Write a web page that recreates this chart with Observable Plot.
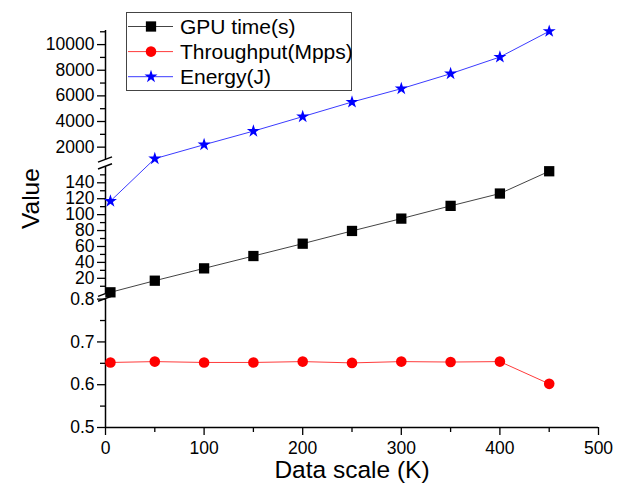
<!DOCTYPE html>
<html>
<head>
<meta charset="utf-8">
<script src="https://cdn.jsdelivr.net/npm/d3@7"></script>
<script src="https://cdn.jsdelivr.net/npm/@observablehq/plot@0.6"></script>
<style>
  body { margin: 0; background: #fff; }
  #chart { position: relative; width: 624px; height: 495px; font-family: "Liberation Sans", Arial, sans-serif; }
  #legend { position: absolute; left: 126px; top: 12px; }
</style>
</head>
<body>
<div id="chart"></div>
<script>
// Measurements per data scale (thousands of packets)
const dataScale = [5, 50, 100, 150, 200, 250, 300, 350, 400, 450];
const gpuTime = [2.4, 17, 32.5, 48, 63.5, 79.5, 95, 111, 126.5, 154.5];
const throughput = [0.652, 0.654, 0.652, 0.652, 0.654, 0.651, 0.654, 0.653, 0.654, 0.602];
const energy = [117, 1100, 2190, 3250, 4380, 5520, 6560, 7730, 9030, 11040];

const seriesNames = ["GPU time(s)", "Throughput(Mpps)", "Energy(J)"];
const seriesValues = [gpuTime, throughput, energy];

// Axis ticks
const xTicks = [0, 100, 200, 300, 400, 500];
const xMinorTicks = [50, 150, 250, 350, 450];
const yTicksLow = [0.5, 0.6, 0.7, 0.8];
const yTicksMid = [20, 40, 60, 80, 100, 120, 140];
const yTicksHigh = [2000, 4000, 6000, 8000, 10000];
const yMinorLow = [0.55, 0.65, 0.75];
const yMinorMid = [10, 30, 50, 70, 90, 110, 130, 150];
const yMinorHigh = [3000, 5000, 7000, 9000, 11000];

// Value ranges of the three pieces of the broken y axis
const segmentRanges = [[0.5, 0.8], [0, 160], [1000, 11100]];

// Layout: each piece's extent along the axis (axis units, bottom = 0)
const segmentBands = [[0, 128.2], [133.1, 260.3], [267.2, 396.5]];
const axisLength = 396.5;

const styles = [
  { line: "#444444", fill: "#000000", symbol: "square", r: 5.8 },
  { line: "#ff3b3b", fill: "#ff0000", symbol: "circle", r: 5.3 },
  { line: "#3b3bff", fill: "#0000ff", symbol: "star", r: 4.1 }
];

// Piecewise map from a value to the position on the broken axis
function brk(v) {
  let i = segmentRanges.findIndex(([lo, hi]) => v >= lo && v <= hi);
  if (i < 0) i = v > segmentRanges[2][0] ? 2 : 1;
  const [lo, hi] = segmentRanges[i];
  const [b0, b1] = segmentBands[i];
  return b0 + (v - lo) / (hi - lo) * (b1 - b0);
}

const majorY = [...yTicksLow, ...yTicksMid, ...yTicksHigh];
const minorY = [...yMinorLow, ...yMinorMid, ...yMinorHigh];
const labelOf = new Map(majorY.map(v => [brk(v), String(v)]));

const rows = seriesValues.map((vals, s) => dataScale.map((k, i) => ({ k, s, v: vals[i] })));
const segRows = segmentBands.map(([v0, v1]) => ({ v0, v1 }));

// Slanted double strokes marking each break of the y axis
function breakMarks(index, scales) {
  const g = d3.create("svg:g").attr("stroke", "black").attr("stroke-width", 1.4).attr("fill", "none");
  const x0 = scales.x(0);
  for (let i = 0; i < segmentBands.length - 1; i++) {
    for (const v of [segmentBands[i][1], segmentBands[i + 1][0]]) {
      const y = scales.y(v);
      g.append("line").attr("x1", x0 - 7).attr("y1", y + 2.6).attr("x2", x0 + 7).attr("y2", y - 2.6);
    }
  }
  return g.node();
}

const font = { fontSize: 17.5 };

const plot = Plot.plot({
  width: 624,
  height: 495,
  marginLeft: 105,
  marginRight: 26,
  marginTop: 30,
  marginBottom: 68,
  style: { fontFamily: "'Liberation Sans', Arial, sans-serif", fontSize: "17.5px", color: "#000", background: "#fff" },
  x: { domain: [0, 500] },
  y: { domain: [0, axisLength] },
  marks: [
    Plot.axisX(xTicks, { tickSize: 8, tickPadding: 6, strokeWidth: 1.3, label: null, ...font }),
    Plot.axisX(xMinorTicks, { tickSize: 5, strokeWidth: 1.3, tickFormat: () => "", label: null }),
    Plot.axisY(majorY.map(brk), { tickSize: 8, tickPadding: 3, strokeWidth: 1.3, tickFormat: d => labelOf.get(d), label: null, ...font }),
    Plot.axisY(minorY.map(brk), { tickSize: 5, strokeWidth: 1.3, tickFormat: () => "", label: null }),
    Plot.ruleY([brk(0.5)], { stroke: "black", strokeWidth: 1.5 }),
    Plot.ruleX(segRows, { x: 0, y1: "v0", y2: "v1", stroke: "black", strokeWidth: 1.5 }),
    breakMarks,
    ...rows.map((r, s) => Plot.line(r, { x: "k", y: d => brk(d.v), stroke: styles[s].line, strokeWidth: 1 })),
    ...rows.map((r, s) => Plot.dot(r, { x: "k", y: d => brk(d.v), symbol: styles[s].symbol, r: styles[s].r, fill: styles[s].fill, stroke: "none" })),
    Plot.text(["Value"], { text: d => d, frameAnchor: "left", rotate: -90, dx: -74, fontSize: 24.5 }),
    Plot.text(["Data scale (K)"], { text: d => d, frameAnchor: "bottom", dy: 50.5, fontSize: 24.5 })
  ]
});

const chart = document.getElementById("chart");
chart.appendChild(plot);

// Legend box
const lw = 226, lh = 79;
const legend = d3.select(chart).append("svg")
  .attr("id", "legend").attr("width", lw).attr("height", lh);
legend.append("rect").attr("x", 0.5).attr("y", 0.5).attr("width", lw - 1).attr("height", lh - 1)
  .attr("fill", "#fff").attr("stroke", "#444").attr("stroke-width", 1);
const symbolTypes = { square: d3.symbolSquare, circle: d3.symbolCircle, star: d3.symbolStar };
seriesNames.forEach((name, i) => {
  const y = 14.5 + i * 25.1;
  const row = legend.append("g");
  row.append("line").attr("x1", 2).attr("x2", 47).attr("y1", y).attr("y2", y)
    .attr("stroke", styles[i].line).attr("stroke-width", 1);
  row.append("path")
    .attr("d", d3.symbol(symbolTypes[styles[i].symbol], Math.PI * styles[i].r ** 2)())
    .attr("transform", `translate(25,${y})`).attr("fill", styles[i].fill);
  row.append("text").attr("x", 54).attr("y", y).attr("dy", "0.35em")
    .attr("font-family", "'Liberation Sans', Arial, sans-serif").attr("font-size", 21)
    .attr("fill", "#000").text(name);
});
</script>
</body>
</html>
